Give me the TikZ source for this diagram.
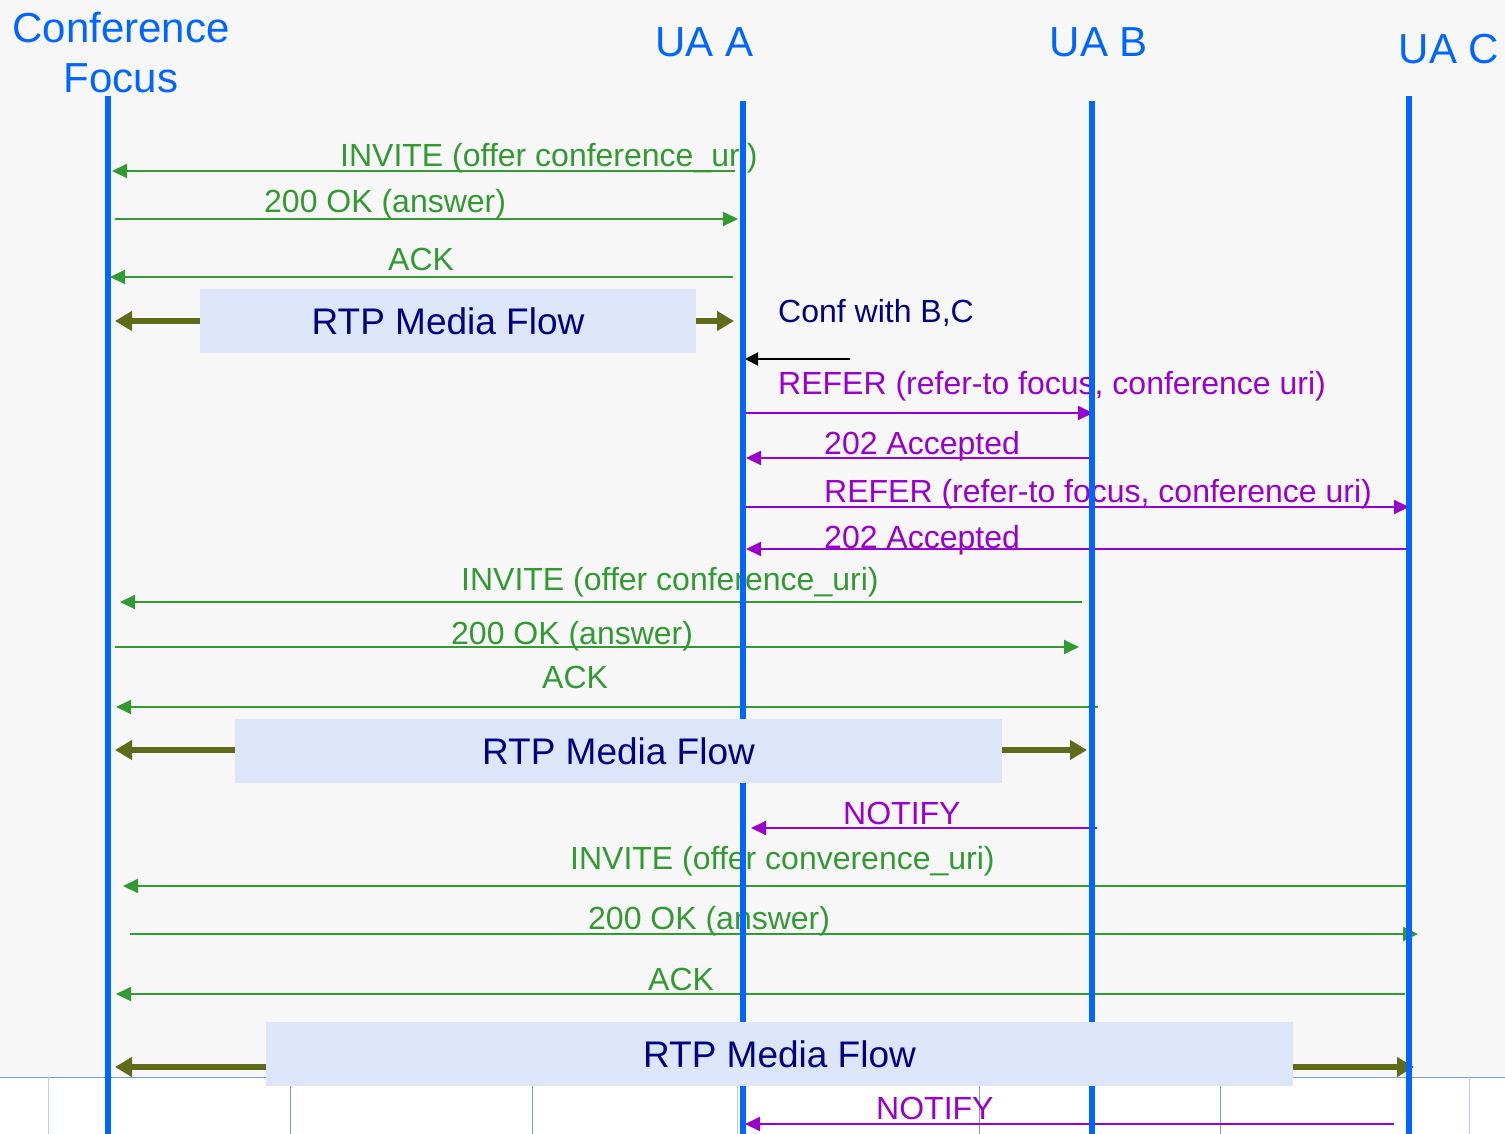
\documentclass[tikz,border=0pt]{standalone}
\usepackage{fontspec}
\setmainfont{Liberation Sans}
\usetikzlibrary{arrows.meta}

\definecolor{bgcol}{HTML}{F7F7F7}
\definecolor{lifeblue}{HTML}{0066FF}
\definecolor{msggreen}{HTML}{339933}
\definecolor{msgpurple}{HTML}{9900CC}
\definecolor{navytext}{HTML}{000080}
\definecolor{boxfill}{HTML}{DCE6F8}
\definecolor{olive}{HTML}{5F6B1A}
\definecolor{gridA}{HTML}{7F9BD6}
\definecolor{gridB}{HTML}{C3CBDD}

\tikzset{
  header/.style={text=lifeblue, font=\fontsize{42}{46}\selectfont, inner sep=0pt},
  lifeline/.style={draw=lifeblue, line width=6.5pt},
  lbl/.style={font=\fontsize{32}{36}\selectfont, inner sep=0pt, anchor=base west},
  glbl/.style={lbl, text=msggreen},
  plbl/.style={lbl, text=msgpurple},
  gmsg/.style={draw=msggreen, line width=2pt, -{Triangle[length=15pt,width=14pt]}},
  pmsg/.style={draw=msgpurple, line width=2pt, -{Triangle[length=15pt,width=14pt]}},
  kmsg/.style={draw=black, line width=2pt, -{Triangle[length=13pt,width=13pt]}},
  media/.style={draw=olive, line width=6.5pt, -{Triangle[length=17pt,width=19pt]}},
  mediabox/.style={fill=boxfill, text=navytext, font=\fontsize{37}{40}\selectfont, inner sep=0pt},
  grid/.style={line width=1pt}
}

\begin{document}
\begin{tikzpicture}[x=1pt, y=-1pt]
\useasboundingbox (0,0) rectangle (1505,1134);

% backdrop and the strip of cells along the bottom
\fill[bgcol] (0,0) rectangle (1505,1077);
\fill[white] (0,1077) rectangle (1505,1134);
\draw[grid, gridA] (0,1077) -- (1505,1077);
\foreach \gx/\gc in {48/gridB, 290/gridA, 532/gridA, 737/gridB, 979/gridA, 1220/gridA, 1469/gridB}
  \draw[grid, \gc] (\gx,1077) -- (\gx,1134);

% participants
\node[header, anchor=base] (hfocus1) at (121,43) {Conference};
\node[header, anchor=base] (hfocus2) at (121,93) {Focus};
\node[header, anchor=base] (huaa) at (704.5,57) {UA A};
\node[header, anchor=base] (huab) at (1099,57) {UA B};
\node[header, anchor=base] (huac) at (1449,64) {UA C};

\coordinate (ftop) at (108,96);   \coordinate (fbot) at (108,1134);
\coordinate (atop) at (743,101);  \coordinate (abot) at (743,1134);
\coordinate (btop) at (1092,101); \coordinate (bbot) at (1092,1134);
\coordinate (ctop) at (1409,96);  \coordinate (cbot) at (1409,1134);

% --- UA A joins the focus
\node[glbl] (l1) at (340,167) {INVITE (offer conference\_uri)};
\coordinate (m1s) at (735,171); \coordinate (m1e) at (112,171);
\draw[gmsg] (m1s) -- (m1e);

\node[glbl] (l2) at (264,213) {200 OK (answer)};
\coordinate (m2s) at (115,219); \coordinate (m2e) at (738,219);
\draw[gmsg] (m2s) -- (m2e);

\node[glbl] (l3) at (388,270) {ACK};
\coordinate (m3s) at (733,277); \coordinate (m3e) at (110,277);
\draw[gmsg] (m3s) -- (m3e);

% --- UA A invites B and C
\node[lbl, text=navytext] (l4) at (778,322) {Conf with B,C};
\coordinate (k1s) at (850,359); \coordinate (k1e) at (745,359);
\draw[kmsg] (k1s) -- (k1e);

\node[plbl] (l5) at (778,394) {REFER (refer-to focus, conference uri)};
\coordinate (m5s) at (741,413); \coordinate (m5e) at (1093,413);
\draw[pmsg] (m5s) -- (m5e);

\node[plbl] (l6) at (824,454) {202 Accepted};
\coordinate (m6s) at (1092,458); \coordinate (m6e) at (746,458);
\draw[pmsg] (m6s) -- (m6e);

\node[plbl] (l7) at (824,502) {REFER (refer-to focus, conference uri)};
\coordinate (m7s) at (745,507); \coordinate (m7e) at (1409,507);
\draw[pmsg] (m7s) -- (m7e);

\node[plbl] (l8) at (824,548) {202 Accepted};
\coordinate (m8s) at (1409,549); \coordinate (m8e) at (746,549);
\draw[pmsg] (m8s) -- (m8e);

% --- UA B joins the focus
\node[glbl] (l9) at (461,590) {INVITE (offer conference\_uri)};
\coordinate (m9s) at (1082,602); \coordinate (m9e) at (120,602);
\draw[gmsg] (m9s) -- (m9e);

\node[glbl] (l10) at (451,644) {200 OK (answer)};
\coordinate (m10s) at (115,647); \coordinate (m10e) at (1079,647);
\draw[gmsg] (m10s) -- (m10e);

\node[glbl] (l11) at (542,688) {ACK};
\coordinate (m11s) at (1098,707); \coordinate (m11e) at (116,707);
\draw[gmsg] (m11s) -- (m11e);

\node[plbl] (l12) at (843,824) {NOTIFY};
\coordinate (m12s) at (1097,828); \coordinate (m12e) at (751,828);
\draw[pmsg] (m12s) -- (m12e);

% --- UA C joins the focus
\node[glbl] (l13) at (570,869) {INVITE (offer converence\_uri)};
\coordinate (m13s) at (1412,886); \coordinate (m13e) at (123,886);
\draw[gmsg] (m13s) -- (m13e);

\node[glbl] (l14) at (588,929) {200 OK (answer)};
\coordinate (m14s) at (130,934); \coordinate (m14e) at (1418,934);
\draw[gmsg] (m14s) -- (m14e);

\node[glbl] (l15) at (648,990) {ACK};
\coordinate (m15s) at (1405,994); \coordinate (m15e) at (116,994);
\draw[gmsg] (m15s) -- (m15e);

\node[plbl] (l16) at (876,1119) {NOTIFY};
\coordinate (m16s) at (1394,1124); \coordinate (m16e) at (745,1124);
\draw[pmsg] (m16s) -- (m16e);

% media flow arrows (under the lifelines)
\coordinate (r1l) at (115,321);  \coordinate (r1r) at (734,321);
\coordinate (r2l) at (115,750);  \coordinate (r2r) at (1087,750);
\coordinate (r3l) at (115,1067); \coordinate (r3r) at (1414,1067);
\coordinate (r1a) at (200,321);  \coordinate (r1b) at (696,321);
\coordinate (r2a) at (235,750);  \coordinate (r2b) at (1002,750);
\coordinate (r3a) at (266,1067); \coordinate (r3b) at (1293,1067);
\draw[media] (r1a) -- (r1l);
\draw[media] (r1b) -- (r1r);
\draw[media] (r2a) -- (r2l);
\draw[media] (r2b) -- (r2r);
\draw[media] (r3a) -- (r3l);
\draw[media] (r3b) -- (r3r);

% lifelines
\draw[lifeline] (ftop) -- (fbot);
\draw[lifeline] (atop) -- (abot);
\draw[lifeline] (btop) -- (bbot);
\draw[lifeline] (ctop) -- (cbot);

% media flow boxes
\node[mediabox, minimum width=496pt, minimum height=64pt] (rtp1) at (448,321) {RTP Media Flow};
\node[mediabox, minimum width=767pt, minimum height=64pt] (rtp2) at (618.5,751) {RTP Media Flow};
\node[mediabox, minimum width=1027pt, minimum height=64pt] (rtp3) at (779.5,1054) {RTP Media Flow};
\end{tikzpicture}
\end{document}
